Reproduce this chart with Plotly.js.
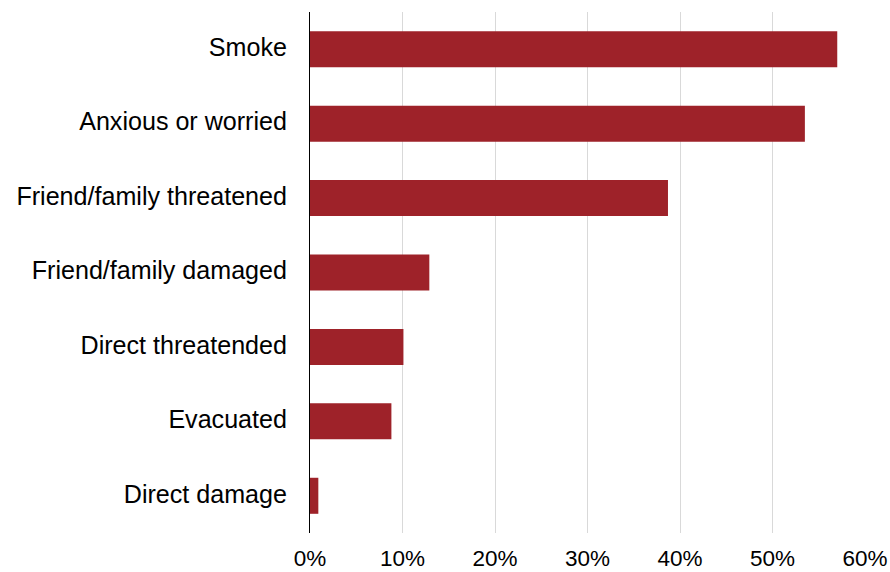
<!DOCTYPE html>
<html>
<head>
<meta charset="utf-8">
<script src="https://cdn.plot.ly/plotly-3.0.1.min.js"></script>
<style>html,body{margin:0;padding:0;background:#fff}#chart{width:890px;height:572px}</style>
</head>
<body>
<div id="chart"></div>
<script>
const categories = ["Smoke", "Anxious or worried", "Friend/family threatened", "Friend/family damaged", "Direct threatended", "Evacuated", "Direct damage"];
const values = [57.0, 53.5, 38.7, 12.9, 10.1, 8.8, 0.9];
const tickValues = [0, 10, 20, 30, 40, 50, 60];

const trace = {
  type: 'bar',
  orientation: 'h',
  y: categories,
  x: values,
  marker: {color: '#9e2229'},
  hoverinfo: 'x+y'
};

const layout = {
  width: 890,
  height: 572,
  margin: {l: 310, r: 25, t: 12, b: 39},
  paper_bgcolor: '#fff',
  plot_bgcolor: '#fff',
  bargap: 0.516,
  showlegend: false,
  font: {family: 'Liberation Sans, Arial, sans-serif', size: 20, color: '#000'},
  xaxis: {
    range: [0, 60],
    tickvals: tickValues,
    ticktext: tickValues.map(v => v + '%'),
    showgrid: true,
    gridcolor: '#d9d9d9',
    gridwidth: 1,
    zeroline: false,
    showline: false,
    ticks: '',
    ticklabelstandoff: 9,
    tickfont: {size: 22.5, color: '#000'}
  },
  yaxis: {
    autorange: 'reversed',
    type: 'category',
    showgrid: false,
    zeroline: false,
    showline: true,
    linecolor: '#000',
    linewidth: 1,
    ticks: '',
    ticklabelstandoff: 17,
    ticklabelshift: 2,
    tickfont: {size: 25.1, color: '#000'}
  }
};

Plotly.newPlot('chart', [trace], layout, {displayModeBar: false, staticPlot: true});
</script>
</body>
</html>
